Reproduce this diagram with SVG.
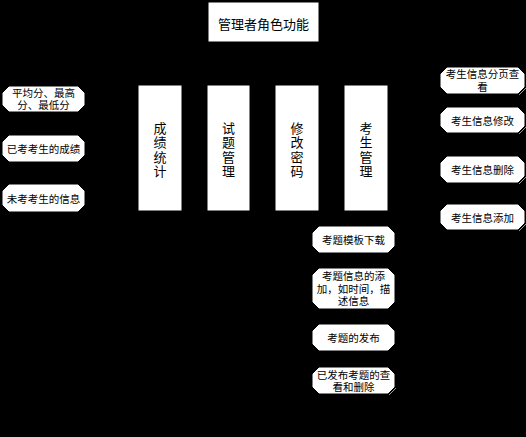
<svg xmlns="http://www.w3.org/2000/svg" width="526" height="437" viewBox="0 0 526 437">
<style>
.bg{fill:#000}
.box{fill:#fff;stroke:#000;stroke-width:1}
.oct{fill:#fff;stroke:#000;stroke-width:1}
.sh{stroke:#9a9a9a;stroke-width:1;fill:none}
.t{font-family:"Noto Sans CJK SC","Noto Sans",sans-serif;fill:#000;text-anchor:middle;dominant-baseline:central}
.m{font-family:"Liberation Sans","Noto Sans CJK SC",sans-serif}
.s11{font-size:10.5px}
.s13{font-size:13px}
.v{font-size:13px;writing-mode:vertical-rl;letter-spacing:1.5px}
.con{stroke:#000;stroke-width:1;fill:none}
</style>
<rect class="bg" x="0" y="0" width="526" height="437"/>
<g id="connectors">
<path class="con" d="M263,42 V63 M160,63 H366 M160,63 V85 M228,63 V85 M297,63 V85 M366,63 V85"/>
<path class="con" d="M138,148 H110 M110,99 V198 M85,99 H110 M85,148 H110 M85,198 H110"/>
<path class="con" d="M228,211 V218 H300 M300,218 V380 M300,239 H312 M300,288 H312 M300,337 H312 M300,380 H312"/>
<path class="con" d="M388,148 H415 M415,80 V217 M415,80 H440 M415,120 H440 M415,169 H440 M415,217 H440"/>
</g>
<g id="title"><rect class="box" x="208" y="2" width="111" height="40"/><text class="t s13" x="263.5" y="23">管理者角色功能</text></g>
<g id="score"><rect class="box" x="138" y="85" width="44" height="126"/><text class="t v" x="160" y="150.5">成绩统计</text></g>
<g id="exam"><rect class="box" x="207" y="85" width="43" height="126"/><text class="t v" x="228.5" y="150.5">试题管理</text></g>
<g id="pwd"><rect class="box" x="275" y="85" width="44" height="126"/><text class="t v" x="297" y="150.5">修改密码</text></g>
<g id="student"><rect class="box" x="344" y="85" width="44" height="126"/><text class="t v" x="366" y="150.5">考生管理</text></g>
<g id="l1"><polygon class="oct" points="9,86 78,86 85,93 85,105 78,112 9,112 2,105 2,93"/><text class="t m s11" x="43.5" y="92.5"><tspan x="43.5" dy="0">平均分、最高</tspan><tspan x="43.5" dy="12.5">分、最低分</tspan></text></g>
<g id="l2"><polygon class="oct" points="9,135 78,135 85,142 85,155 78,162 9,162 2,155 2,142"/><text class="t s11" x="43.5" y="148.5">已考考生的成绩</text></g>
<g id="l3"><polygon class="oct" points="9,184 78,184 85,191 85,205 78,212 9,212 2,205 2,191"/><text class="t s11" x="43.5" y="198">未考考生的信息</text></g>
<g id="r1"><polygon class="oct" points="447,67 518,67 525,74 525,87 518,94 447,94 440,87 440,74"/><path class="sh" d="M519,95 L526,88"/><text class="t m s11" x="482.5" y="74"><tspan x="482.5" dy="0">考生信息分页查</tspan><tspan x="482.5" dy="12.5">看</tspan></text></g>
<g id="r2"><polygon class="oct" points="447,107 518,107 525,114 525,126 518,133 447,133 440,126 440,114"/><path class="sh" d="M519,134 L526,127"/><text class="t s11" x="482.5" y="120">考生信息修改</text></g>
<g id="r3"><polygon class="oct" points="447,156 518,156 525,163 525,176 518,183 447,183 440,176 440,163"/><path class="sh" d="M519,184 L526,177"/><text class="t s11" x="482.5" y="169.5">考生信息删除</text></g>
<g id="r4"><polygon class="oct" points="447,204 518,204 525,211 525,223 518,230 447,230 440,223 440,211"/><path class="sh" d="M519,231 L526,224"/><text class="t s11" x="482.5" y="217">考生信息添加</text></g>
<g id="b1"><polygon class="oct" points="319,226 388,226 395,233 395,246 388,253 319,253 312,246 312,233"/><text class="t s11" x="353.5" y="239.5">考题模板下载</text></g>
<g id="b2"><polygon class="oct" points="319,268 388,268 395,275 395,302 388,309 319,309 312,302 312,275"/><text class="t m s11" x="353.5" y="276"><tspan x="353.5" dy="0">考题信息的添</tspan><tspan x="353.5" dy="12.5">加，如时间，描</tspan><tspan x="353.5" dy="12.5">述信息</tspan></text></g>
<g id="b3"><polygon class="oct" points="319,324 388,324 395,331 395,344 388,351 319,351 312,344 312,331"/><text class="t s11" x="353.5" y="337.5">考题的发布</text></g>
<g id="b4"><polygon class="oct" points="319,367 388,367 395,374 395,387 388,394 319,394 312,387 312,374"/><path class="sh" d="M389,395 L396,388"/><text class="t m s11" x="353.5" y="374.5"><tspan x="353.5" dy="0">已发布考题的查</tspan><tspan x="353.5" dy="12.5">看和删除</tspan></text></g>
</svg>
